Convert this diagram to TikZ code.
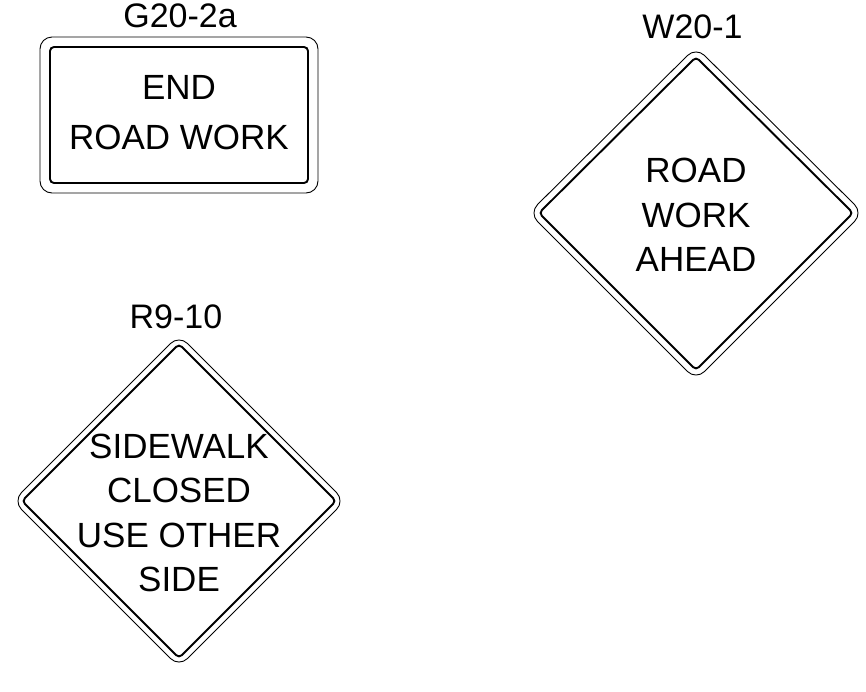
\documentclass[tikz,border=0pt]{standalone}
\usepackage{fontspec}
\setmainfont{Liberation Sans}
\begin{document}
\begin{tikzpicture}[x=1pt,y=-1pt,
  outerline/.style={line width=0.9pt,rounded corners=12pt},
  innerline/.style={line width=1.9pt,rounded corners=4pt},
  signlabel/.style={anchor=base,inner sep=0pt,font=\fontsize{34}{40}\selectfont},
  signtext/.style={anchor=center,inner sep=0pt,align=center,font=\fontsize{35}{44.5}\selectfont}]
\useasboundingbox (0,0) rectangle (866,691);
% G20-2a
\draw[outerline] (40,37) rectangle (318,193);
\draw[innerline] (50,47) rectangle (308,183);
\node[signlabel] (g2label) at (180,27) {G20-2a};
\node[signtext,font=\fontsize{35}{50}\selectfont] (g2text) at (179,112.5) {END\\ROAD WORK};
% W20-1
\draw[outerline] (696,47) -- (863,213) -- (696,380) -- (529,213) -- cycle;
\draw[innerline] (696,57) -- (853,213) -- (696,370) -- (539,213) -- cycle;
\node[signlabel] (w20label) at (692.5,38) {W20-1};
\node[signtext] (w20text) at (696,215) {ROAD\\WORK\\AHEAD};
% R9-10
\draw[outerline] (179,335) -- (345,501) -- (179,667) -- (13,501) -- cycle;
\draw[innerline] (179,344) -- (336,501) -- (179,658) -- (22,501) -- cycle;
\node[signlabel] (r9label) at (176,328) {R9-10};
\node[signtext] (r9text) at (179,513) {SIDEWALK\\CLOSED\\USE OTHER\\SIDE};
\end{tikzpicture}
\end{document}
